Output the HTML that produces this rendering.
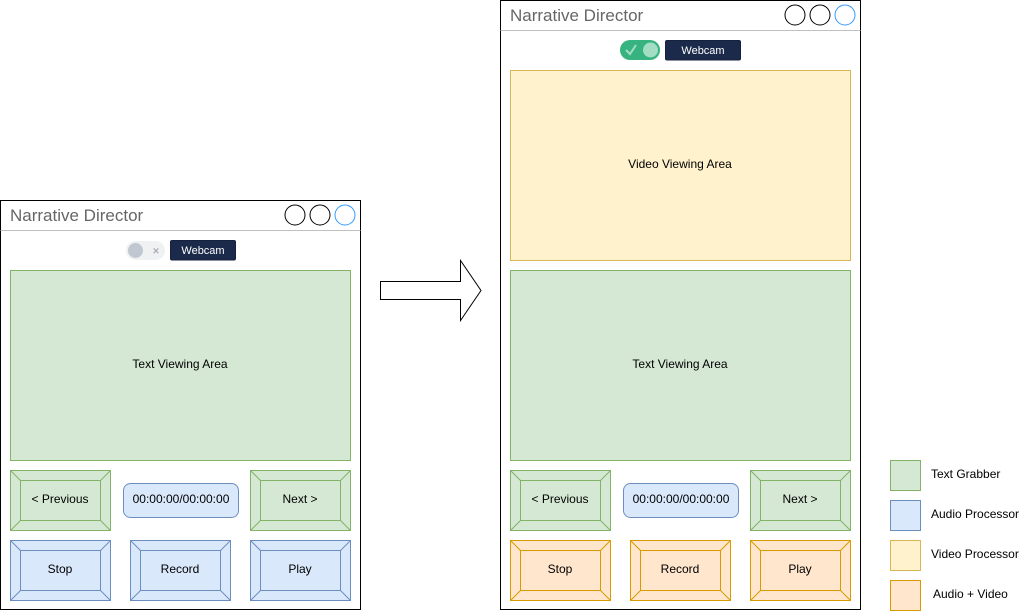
<!DOCTYPE html>
<html><head><style>html,body{margin:0;padding:0;background:#fff}svg{display:block}text{font-family:"Liberation Sans",Arial,sans-serif}</style></head>
<body>
<svg width="1021" height="611" viewBox="0 0 1021 611" xmlns="http://www.w3.org/2000/svg">
<!-- LEFT WINDOW -->
<rect x="0.5" y="200.5" width="360" height="409" fill="#fff" stroke="#000"/>
<line x1="0.5" y1="230.5" x2="360.5" y2="230.5" stroke="#c0c0c0"/>
<text x="10" y="221" font-size="17" fill="#666">Narrative Director</text>
<circle cx="295" cy="215" r="10" fill="#fff" stroke="#000"/>
<circle cx="320" cy="215" r="10" fill="#fff" stroke="#000"/>
<circle cx="345" cy="215" r="10" fill="#fff" stroke="#3399ff"/>
<rect x="126" y="241" width="39" height="19" rx="9.5" fill="#f0f1f3"/>
<circle cx="135.5" cy="250.5" r="7.5" fill="#c1c7d0"/>
<text x="156" y="254.5" font-size="11" fill="#a5adba" text-anchor="middle" font-weight="bold">×</text>
<rect x="170.5" y="240.5" width="65" height="19.5" rx="1.5" fill="#1b2a4a" stroke="#15223d"/>
<text x="203" y="254" font-size="11" fill="#fff" text-anchor="middle">Webcam</text>
<rect x="10.5" y="270.5" width="340" height="190" fill="#d5e8d4" stroke="#82b366"/>
<text x="180" y="368" font-size="12" text-anchor="middle">Text Viewing Area</text>
<g stroke="#82b366" fill="#d5e8d4">
<rect x="10.5" y="470.5" width="100" height="60"/><rect x="20.5" y="480.5" width="80" height="40"/>
<path d="M10.5 470.5L20.5 480.5M110.5 470.5L100.5 480.5M10.5 530.5L20.5 520.5M110.5 530.5L100.5 520.5"/>
<rect x="250.5" y="470.5" width="100" height="60"/><rect x="260.5" y="480.5" width="80" height="40"/>
<path d="M250.5 470.5L260.5 480.5M350.5 470.5L340.5 480.5M250.5 530.5L260.5 520.5M350.5 530.5L340.5 520.5"/>
</g>
<rect x="123.5" y="483.5" width="115" height="34" rx="7" fill="#dae8fc" stroke="#6c8ebf"/>
<text x="181" y="503" font-size="12" text-anchor="middle">00:00:00/00:00:00</text>
<text x="60" y="503" font-size="12" text-anchor="middle">&lt; Previous</text>
<text x="300" y="503" font-size="12" text-anchor="middle">Next &gt;</text>
<g stroke="#6c8ebf" fill="#dae8fc">
<rect x="10.5" y="540.5" width="100" height="60"/><rect x="20.5" y="550.5" width="80" height="40"/>
<path d="M10.5 540.5L20.5 550.5M110.5 540.5L100.5 550.5M10.5 600.5L20.5 590.5M110.5 600.5L100.5 590.5"/>
<rect x="130.5" y="540.5" width="100" height="60"/><rect x="140.5" y="550.5" width="80" height="40"/>
<path d="M130.5 540.5L140.5 550.5M230.5 540.5L220.5 550.5M130.5 600.5L140.5 590.5M230.5 600.5L220.5 590.5"/>
<rect x="250.5" y="540.5" width="100" height="60"/><rect x="260.5" y="550.5" width="80" height="40"/>
<path d="M250.5 540.5L260.5 550.5M350.5 540.5L340.5 550.5M250.5 600.5L260.5 590.5M350.5 600.5L340.5 590.5"/>
</g>
<text x="60" y="573" font-size="12" text-anchor="middle">Stop</text>
<text x="180" y="573" font-size="12" text-anchor="middle">Record</text>
<text x="300" y="573" font-size="12" text-anchor="middle">Play</text>

<!-- ARROW -->
<path d="M380.5 281.5H460.5V260.5L481 290.5L460.5 320.5V299.5H380.5Z" fill="#fff" stroke="#000"/>

<!-- RIGHT WINDOW -->
<rect x="500.5" y="0.5" width="360" height="609" fill="#fff" stroke="#000"/>
<line x1="500.5" y1="30.5" x2="860.5" y2="30.5" stroke="#c0c0c0"/>
<text x="510" y="21" font-size="17" fill="#666">Narrative Director</text>
<circle cx="795" cy="15" r="10" fill="#fff" stroke="#000"/>
<circle cx="820" cy="15" r="10" fill="#fff" stroke="#000"/>
<circle cx="845" cy="15" r="10" fill="#fff" stroke="#3399ff"/>
<rect x="620" y="40" width="40" height="20" rx="10" fill="#36b37e"/>
<circle cx="650.5" cy="50" r="7.5" fill="#a3ddc4"/>
<path d="M626 50L630 54L636 45" stroke="#a3ddc4" stroke-width="2" fill="none"/>
<rect x="665.5" y="40.5" width="75" height="19.5" rx="1.5" fill="#1b2a4a" stroke="#15223d"/>
<text x="703" y="54" font-size="11" fill="#fff" text-anchor="middle">Webcam</text>
<rect x="510.5" y="70.5" width="340" height="190" fill="#fff2cc" stroke="#d6b656"/>
<text x="680" y="168" font-size="12" text-anchor="middle">Video Viewing Area</text>
<rect x="510.5" y="270.5" width="340" height="190" fill="#d5e8d4" stroke="#82b366"/>
<text x="680" y="368" font-size="12" text-anchor="middle">Text Viewing Area</text>
<g stroke="#82b366" fill="#d5e8d4">
<rect x="510.5" y="470.5" width="100" height="60"/><rect x="520.5" y="480.5" width="80" height="40"/>
<path d="M510.5 470.5L520.5 480.5M610.5 470.5L600.5 480.5M510.5 530.5L520.5 520.5M610.5 530.5L600.5 520.5"/>
<rect x="750.5" y="470.5" width="100" height="60"/><rect x="760.5" y="480.5" width="80" height="40"/>
<path d="M750.5 470.5L760.5 480.5M850.5 470.5L840.5 480.5M750.5 530.5L760.5 520.5M850.5 530.5L840.5 520.5"/>
</g>
<rect x="623.5" y="483.5" width="115" height="34" rx="7" fill="#dae8fc" stroke="#6c8ebf"/>
<text x="681" y="503" font-size="12" text-anchor="middle">00:00:00/00:00:00</text>
<text x="560" y="503" font-size="12" text-anchor="middle">&lt; Previous</text>
<text x="800" y="503" font-size="12" text-anchor="middle">Next &gt;</text>
<g stroke="#d79b00" fill="#ffe6cc">
<rect x="510.5" y="540.5" width="100" height="60"/><rect x="520.5" y="550.5" width="80" height="40"/>
<path d="M510.5 540.5L520.5 550.5M610.5 540.5L600.5 550.5M510.5 600.5L520.5 590.5M610.5 600.5L600.5 590.5"/>
<rect x="630.5" y="540.5" width="100" height="60"/><rect x="640.5" y="550.5" width="80" height="40"/>
<path d="M630.5 540.5L640.5 550.5M730.5 540.5L720.5 550.5M630.5 600.5L640.5 590.5M730.5 600.5L720.5 590.5"/>
<rect x="750.5" y="540.5" width="100" height="60"/><rect x="760.5" y="550.5" width="80" height="40"/>
<path d="M750.5 540.5L760.5 550.5M850.5 540.5L840.5 550.5M750.5 600.5L760.5 590.5M850.5 600.5L840.5 590.5"/>
</g>
<text x="560" y="573" font-size="12" text-anchor="middle">Stop</text>
<text x="680" y="573" font-size="12" text-anchor="middle">Record</text>
<text x="800" y="573" font-size="12" text-anchor="middle">Play</text>

<!-- LEGEND -->
<rect x="890.5" y="460.5" width="30" height="30" fill="#d5e8d4" stroke="#82b366"/>
<rect x="890.5" y="500.5" width="30" height="30" fill="#dae8fc" stroke="#6c8ebf"/>
<rect x="890.5" y="540.5" width="30" height="30" fill="#fff2cc" stroke="#d6b656"/>
<rect x="890.5" y="580.5" width="30" height="30" fill="#ffe6cc" stroke="#d79b00"/>
<text x="931" y="478" font-size="12">Text Grabber</text>
<text x="931" y="518" font-size="12">Audio Processor</text>
<text x="931" y="558" font-size="12">Video Processor</text>
<text x="933" y="598" font-size="12">Audio + Video</text>
</svg>
</body></html>
